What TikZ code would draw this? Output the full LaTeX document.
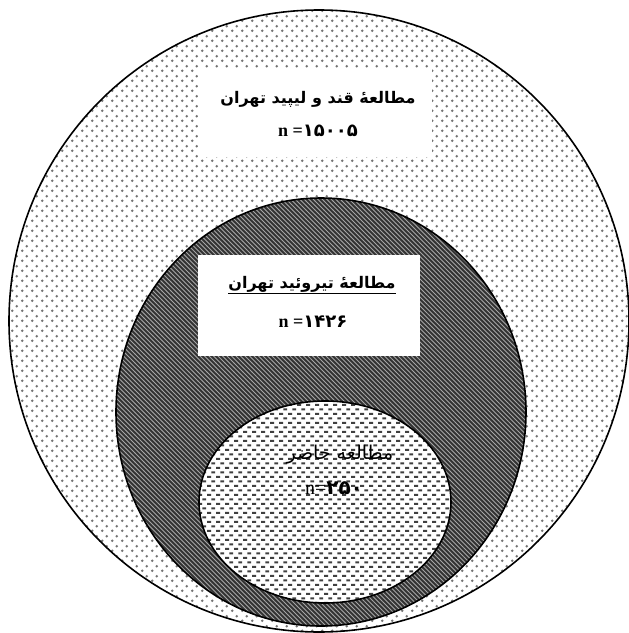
\documentclass[tikz,border=0pt]{standalone}
\usepackage{fontspec}
\setmainfont{Liberation Serif}
\newfontfamily\farsi[Script=Arabic]{DejaVu Sans}
\TeXXeTstate=1
\usetikzlibrary{patterns}

% fill patterns of the three studies
\pgfdeclarepatternformonly{sparsedots}{\pgfqpoint{0pt}{0pt}}{\pgfqpoint{9.5pt}{9.5pt}}{\pgfqpoint{9.5pt}{9.5pt}}{
  \pgfpathcircle{\pgfqpoint{2.375pt}{2.375pt}}{1.4pt}
  \pgfpathcircle{\pgfqpoint{7.125pt}{7.125pt}}{1.4pt}
  \pgfusepath{fill}}
\pgfdeclarepatternformonly{diagstripes}{\pgfqpoint{-1pt}{-1pt}}{\pgfqpoint{5.5pt}{5.5pt}}{\pgfqpoint{4.5pt}{4.5pt}}{
  \pgfsetlinewidth{1pt}
  \pgfpathmoveto{\pgfqpoint{0pt}{4.5pt}}
  \pgfpathlineto{\pgfqpoint{4.6pt}{-0.1pt}}
  \pgfusepath{stroke}}
\pgfdeclarepatternformonly{flatdashes}{\pgfqpoint{0pt}{0pt}}{\pgfqpoint{9pt}{9.4pt}}{\pgfqpoint{9pt}{9.4pt}}{
  \pgfpathrectangle{\pgfqpoint{0.25pt}{1.25pt}}{\pgfqpoint{4.2pt}{2.2pt}}
  \pgfpathrectangle{\pgfqpoint{4.75pt}{5.95pt}}{\pgfqpoint{4.2pt}{2.2pt}}
  \pgfusepath{fill}}

\begin{document}
\begin{tikzpicture}[x=1pt,y=-1pt,line width=1.6pt,
  whitebox/.style={fill=white,inner sep=0pt},
  fatitle/.style={font=\farsi\bfseries\fontsize{16}{19}\selectfont},
  fanum/.style={font=\bfseries\fontsize{18}{21}\selectfont}]
  \useasboundingbox (0,0) rectangle (629,633);
  % Tehran lipid and glucose study
  \fill[pattern=sparsedots,pattern color=black!55] (319,321) ellipse [x radius=310,y radius=311];
  \draw (319,321) ellipse [x radius=310,y radius=311];
  % Tehran thyroid study
  \fill[black!80] (321,412) ellipse [x radius=205,y radius=214];
  \fill[pattern=diagstripes,pattern color=black!35] (321,412) ellipse [x radius=205,y radius=214];
  \draw (321,412) ellipse [x radius=205,y radius=214];
  % present study
  \fill[white] (325,502) ellipse [x radius=126,y radius=101];
  \fill[pattern=flatdashes,pattern color=black!75] (325,502) ellipse [x radius=126,y radius=101];
  \draw (325,502) ellipse [x radius=126,y radius=101];

  \node[whitebox,minimum width=234,minimum height=89] (box1) at (315,112) {};
  \node[fatitle] (title1) at (318,99) {\beginR مطالعهٔ قند و لیپید تهران\endR};
  \node[fanum] (count1) at (318,131) {n =\farsi ۱۵۰۰۵};

  \node[whitebox,minimum width=222,minimum height=101] (box2) at (309,305) {};
  \node[fatitle] (title2) at (312,285) {\underline{\beginR مطالعهٔ تیروئید تهران\endR}};
  \node[fanum] (count2) at (313,322) {n =\farsi ۱۴۲۶};

  \node[font=\farsi\fontsize{19}{22}\selectfont] (title3) at (340,455) {\beginR مطالعه حاضر\endR};
  \node[font=\fontsize{20}{23}\selectfont] (count3) at (334,488) {n=\farsi\bfseries ۲۵۰};
\end{tikzpicture}
\end{document}
